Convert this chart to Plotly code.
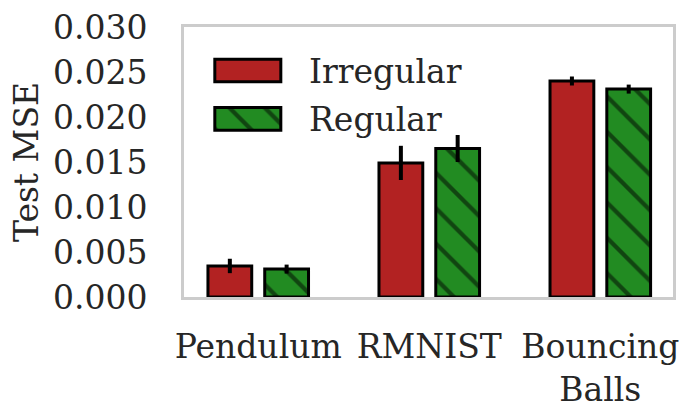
import plotly.graph_objects as go

# ---- data ----
categories = ["Pendulum", "RMNIST", "Bouncing<br>Balls"]
irregular_mse = [0.00345, 0.0149, 0.0240]
irregular_err = [0.0008, 0.0019, 0.0005]
regular_mse = [0.0031, 0.0165, 0.0231]
regular_err = [0.0005, 0.0015, 0.0005]
series_names = ["Irregular", "Regular"]
y_ticks = [0.0, 0.005, 0.010, 0.015, 0.020, 0.025, 0.030]

# ---- style ----
RED = "#B22222"
GREEN = "#228B22"
TEXT = "#262626"
FONT = "DejaVu Serif"
FS = 33
BAR_W = 0.256
OFFSETS = [-0.294, 0.038]
hatch = dict(shape="\\", fgcolor="black", bgcolor=GREEN, size=25, solidity=0.17)

fig = go.Figure()
fig.add_trace(go.Bar(
    x=categories, y=irregular_mse, name=series_names[0],
    width=BAR_W, offset=OFFSETS[0],
    marker=dict(color=RED, line=dict(color="black", width=3)),
    error_y=dict(type="data", array=irregular_err, color="black", thickness=4, width=0),
    showlegend=False,
))
fig.add_trace(go.Bar(
    x=categories, y=regular_mse, name=series_names[1],
    width=BAR_W, offset=OFFSETS[1],
    marker=dict(color=GREEN, line=dict(color="black", width=3), pattern=hatch),
    error_y=dict(type="data", array=regular_err, color="black", thickness=4, width=0),
    showlegend=False,
))

# ---- legend drawn on an overlay axis (fractions of plot area) ----
LEG_X = 0.063
LEG_W = 0.135
LEG_BOX = [(0.797, 0.084), (0.618, 0.084)]  # (bottom, height) per entry
leg_colors = [RED, GREEN]
leg_patterns = [None, hatch]
for i in range(2):
    m = dict(color=leg_colors[i], line=dict(color="black", width=3))
    if leg_patterns[i]:
        m["pattern"] = leg_patterns[i]
    fig.add_trace(go.Bar(
        x=[LEG_X], y=[LEG_BOX[i][1]], base=[LEG_BOX[i][0]], width=[LEG_W], offset=0,
        marker=m, xaxis="x2", yaxis="y2", showlegend=False, hoverinfo="skip",
    ))
    fig.add_annotation(
        x=0.252, y=LEG_BOX[i][0] + LEG_BOX[i][1] / 2 - 0.003, xref="x2", yref="y2",
        text=series_names[i], showarrow=False, xanchor="left", yanchor="middle",
        font=dict(family=FONT, size=FS, color=TEXT),
    )

axis_common = dict(showline=True, mirror=True, linecolor="#cccccc", linewidth=3,
                   showgrid=False, zeroline=False, automargin=False,
                   tickfont=dict(family=FONT, size=FS, color=TEXT))

fig.update_layout(
    width=694, height=415,
    margin=dict(l=184, r=21, t=27, b=118, autoexpand=False),
    barmode="overlay",
    paper_bgcolor="white", plot_bgcolor="white",
    font=dict(family=FONT, size=FS, color=TEXT),
    xaxis=dict(range=[-0.434, 2.425], ticks="outside", ticklen=18,
               tickcolor="rgba(0,0,0,0)", **axis_common),
    yaxis=dict(range=[0, 0.03], tickvals=y_ticks, tickformat=".3f",
               ticks="outside", ticklen=27, tickcolor="rgba(0,0,0,0)",
               title=dict(text="Test MSE", font=dict(family=FONT, size=FS, color=TEXT), standoff=5),
               **axis_common),
    xaxis2=dict(overlaying="x", anchor="y2", range=[0, 1], visible=False, automargin=False),
    yaxis2=dict(overlaying="y", anchor="x2", range=[0, 1], visible=False, automargin=False),
)

fig.write_html("out.html", config={"displayModeBar": False},
               post_script="document.body.style.margin='0';document.body.style.overflow='hidden';")
